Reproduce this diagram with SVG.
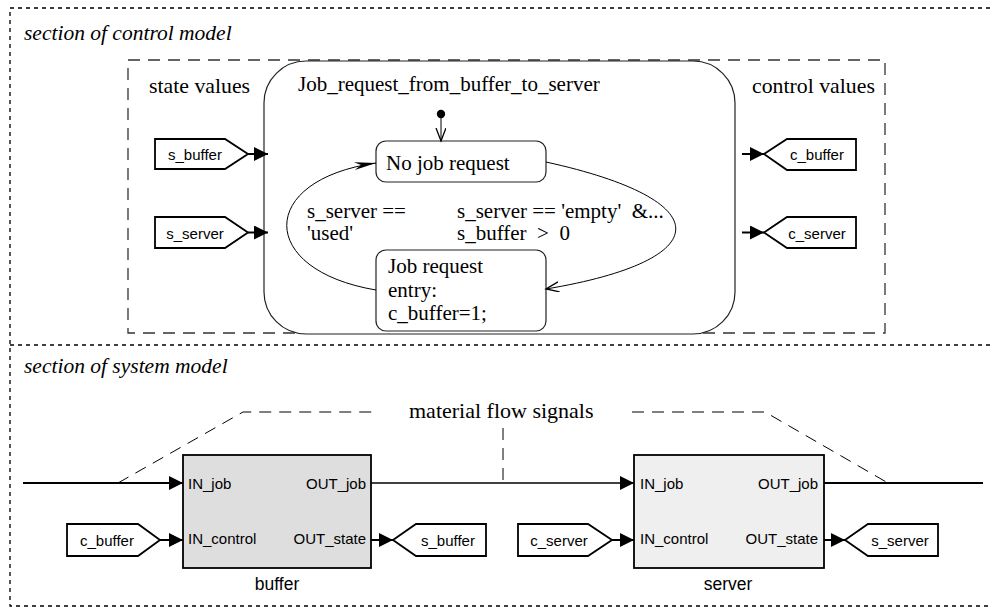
<svg xmlns="http://www.w3.org/2000/svg" width="990" height="608" viewBox="0 0 990 608">
  <style>
    .serif { font-family: "Liberation Serif", "Times New Roman", serif; font-size: 21px; fill: #000; }
    .hdr { font-size: 21.8px; }
    .ital { font-family: "Liberation Serif", "Times New Roman", serif; font-size: 21.5px; font-style: italic; fill: #000; }
    .sans { font-family: "Liberation Sans", Arial, sans-serif; font-size: 15px; fill: #000; }
    .blk { font-family: "Liberation Sans", Arial, sans-serif; font-size: 17.5px; fill: #000; text-anchor: middle; }
    .mid { text-anchor: middle; }
    .end { text-anchor: end; }
    .pre { white-space: pre; }
    .frame { fill: none; stroke: #000; stroke-width: 1.3; stroke-dasharray: 4 4; }
    .group { fill: none; stroke: #333; stroke-width: 1.3; stroke-dasharray: 12 8; }
    .chart { fill: #fff; stroke: #222; stroke-width: 1.2; }
    .state { fill: #fff; stroke: #222; stroke-width: 1.2; }
    .tag { fill: #fff; stroke: #000; stroke-width: 1.8; }
    .block { stroke: #000; stroke-width: 1.8; }
    .sig { fill: none; stroke: #000; stroke-width: 2; marker-end: url(#tri); }
    .flow { fill: none; stroke: #000; stroke-width: 1.3; }
    .trans { fill: none; stroke: #000; stroke-width: 1; marker-end: url(#open); }
    .note { fill: none; stroke: #000; stroke-width: 1; stroke-dasharray: 12 8; }
  </style>
  <defs>
    <marker id="tri" markerUnits="userSpaceOnUse" markerWidth="15" markerHeight="15" refX="14" refY="7" orient="auto">
      <path d="M0,0 L14,7 L0,14 z" fill="#000"/>
    </marker>
    <marker id="open" markerUnits="userSpaceOnUse" markerWidth="16" markerHeight="12" refX="13" refY="5" orient="auto">
      <path d="M0,0 L13,5 L0,10" fill="none" stroke="#000" stroke-width="1.3"/>
    </marker>
    <marker id="swept" markerUnits="userSpaceOnUse" markerWidth="24" markerHeight="12" refX="22" refY="5" orient="auto">
      <path d="M0,1 L22,5 L0,9 L7,5 z" fill="#000"/>
    </marker>
  </defs>

  <!-- section frames (dotted) -->
  <g id="frames">
    <path class="frame" d="M990,8 H10 V606 H990"/>
    <path class="frame" d="M10,345 H990"/>
    <text class="ital" x="24" y="40">section of control model</text>
    <text class="ital" x="24" y="373">section of system model</text>
  </g>

  <!-- control model: group box and chart -->
  <g id="state-values-group">
    <rect class="group" x="128" y="60" width="757" height="273"/>
    <text class="serif hdr" x="149" y="93">state values</text>
    <text class="serif hdr" x="752" y="93">control values</text>
  </g>

  <g id="chart">
    <rect class="chart" x="264" y="61" width="471" height="273" rx="42" ry="42"/>
    <text class="serif" x="298" y="91">Job_request_from_buffer_to_server</text>
    <circle cx="441" cy="114" r="4.2" fill="#000"/>
  </g>

  <g id="state-no-job">
    <rect class="state" x="376" y="141" width="170" height="41" rx="10" ry="10"/>
    <text class="serif" x="386" y="170">No job request</text>
  </g>

  <g id="state-job-request">
    <rect class="state" x="376" y="250" width="170" height="81" rx="10" ry="10"/>
    <text class="serif" x="388" y="273">Job request</text>
    <text class="serif" x="388" y="297">entry:</text>
    <text class="serif" x="388" y="320">c_buffer=1;</text>
  </g>

  <g id="guards">
    <text class="serif" x="307" y="218">s_server ==</text>
    <text class="serif" x="307" y="240">'used'</text>
    <text class="serif pre" x="457" y="218">s_server == 'empty'  &amp;...</text>
    <text class="serif pre" x="457" y="240">s_buffer  &gt;  0</text>
  </g>

  <!-- chart inputs -->
  <g id="in-s_buffer">
    <polygon class="tag" points="155,139 225,139 248,154 225,169 155,169"/>
    <text class="sans mid" x="195" y="160">s_buffer</text>
  </g>
  <g id="in-s_server">
    <polygon class="tag" points="155,217 225,217 248,232.5 225,248 155,248"/>
    <text class="sans mid" x="195" y="238.5">s_server</text>
  </g>

  <!-- chart outputs -->
  <g id="out-c_buffer">
    <polygon class="tag" points="764,154 787,139 856,139 856,170 787,170"/>
    <text class="sans mid" x="817" y="160">c_buffer</text>
  </g>
  <g id="out-c_server">
    <polygon class="tag" points="764,232.5 787,217 856,217 856,248 787,248"/>
    <text class="sans mid" x="817" y="238.5">c_server</text>
  </g>

  <!-- system model blocks -->
  <g id="block-buffer">
    <rect class="block" x="183" y="455" width="188" height="113" fill="#dedede"/>
    <text class="sans" x="188" y="488.5">IN_job</text>
    <text class="sans end" x="366" y="488.5">OUT_job</text>
    <text class="sans" x="188" y="543.5">IN_control</text>
    <text class="sans end" x="366" y="543.5">OUT_state</text>
    <text class="blk" x="277" y="590">buffer</text>
  </g>

  <g id="block-server">
    <rect class="block" x="634" y="455" width="190" height="113" fill="#efefef"/>
    <text class="sans" x="640" y="488.5">IN_job</text>
    <text class="sans end" x="818" y="488.5">OUT_job</text>
    <text class="sans" x="640" y="543.5">IN_control</text>
    <text class="sans end" x="818" y="543.5">OUT_state</text>
    <text class="blk" x="728" y="590">server</text>
  </g>

  <g id="from-c_buffer">
    <polygon class="tag" points="67,524 138,524 160,540 138,556 67,556"/>
    <text class="sans mid" x="107" y="545.5">c_buffer</text>
  </g>
  <g id="goto-s_buffer">
    <polygon class="tag" points="393,540 416,524 486,524 486,556 416,556"/>
    <text class="sans mid" x="448" y="545.5">s_buffer</text>
  </g>
  <g id="from-c_server">
    <polygon class="tag" points="518,524 588,524 612,540 588,556 518,556"/>
    <text class="sans mid" x="559" y="545.5">c_server</text>
  </g>
  <g id="goto-s_server">
    <polygon class="tag" points="845,540 868,524 938,524 938,556 868,556"/>
    <text class="sans mid" x="900" y="545.5">s_server</text>
  </g>

  <!-- annotation: material flow signals -->
  <g id="material-flow-note">
    <polyline class="note" points="118,483 243,412 375,412"/>
    <polyline class="note" points="632,412 765,412 888,483"/>
    <line class="note" x1="503" y1="428" x2="503" y2="483"/>
    <text class="serif" x="409" y="418" style="font-size:22px">material flow signals</text>
  </g>

  <!-- connectors -->
  <g id="connectors">
    <!-- chart inputs / outputs -->
    <line class="sig" x1="248" y1="154" x2="268" y2="154"/>
    <line class="sig" x1="248" y1="232.5" x2="268" y2="232.5"/>
    <line class="sig" x1="742" y1="154" x2="764" y2="154"/>
    <line class="sig" x1="742" y1="232.5" x2="764" y2="232.5"/>
    <!-- default transition -->
    <line class="trans" x1="441" y1="118" x2="441" y2="141"/>
    <!-- state transitions -->
    <path class="trans" d="M546,162 C719,200 719,260 546,289"/>
    <path d="M376,290 C257,270 257,180 376,163" fill="none" stroke="#000" stroke-width="1" marker-end="url(#swept)"/>
    <!-- job flow -->
    <line class="sig" x1="23" y1="483" x2="183" y2="483"/>
    <line class="flow" x1="371" y1="483" x2="634" y2="483" marker-end="url(#tri)"/>
    <line x1="824" y1="483" x2="983" y2="483" stroke="#000" stroke-width="2"/>
    <!-- control / state signals -->
    <line class="sig" x1="160" y1="540" x2="183" y2="540"/>
    <line class="sig" x1="371" y1="540" x2="393" y2="540"/>
    <line class="sig" x1="612" y1="540" x2="634" y2="540"/>
    <line class="sig" x1="824" y1="540" x2="845" y2="540"/>
  </g>
</svg>
